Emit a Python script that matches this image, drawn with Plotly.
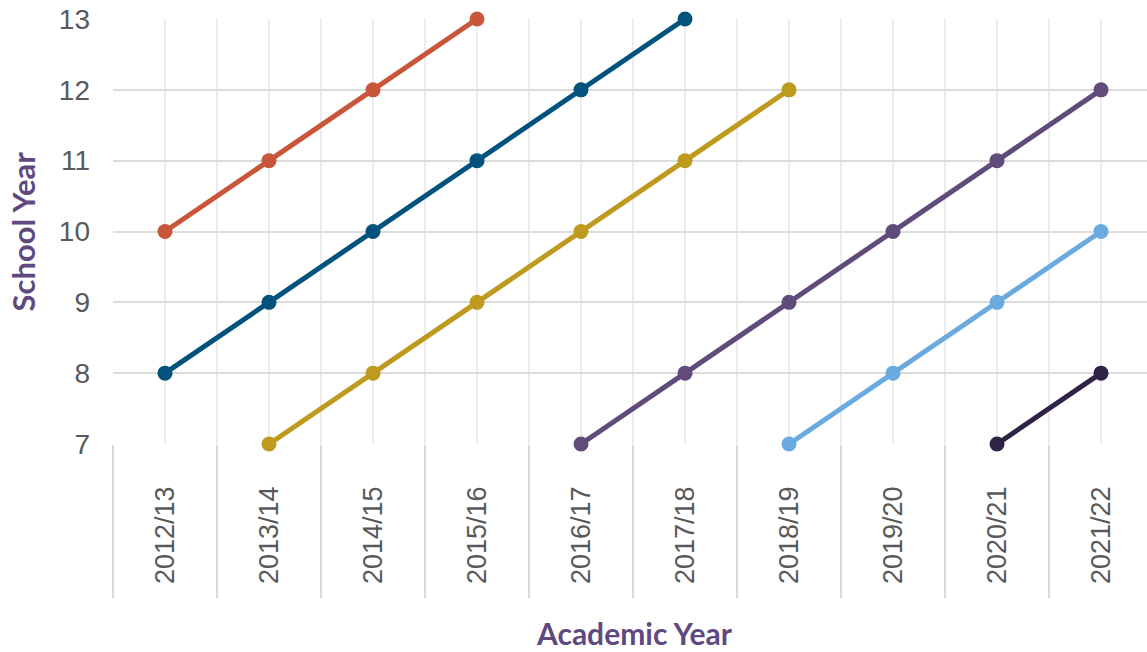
import plotly.graph_objects as go

# Academic years along the x axis
academic_years = ["2012/13", "2013/14", "2014/15", "2015/16", "2016/17",
                  "2017/18", "2018/19", "2019/20", "2020/21", "2021/22"]

# Each cohort: the academic years it is tracked through and its school year
cohort_a_years = ["2012/13", "2013/14", "2014/15", "2015/16"]
cohort_a_school = [10, 11, 12, 13]

cohort_b_years = ["2012/13", "2013/14", "2014/15", "2015/16", "2016/17", "2017/18"]
cohort_b_school = [8, 9, 10, 11, 12, 13]

cohort_c_years = ["2013/14", "2014/15", "2015/16", "2016/17", "2017/18", "2018/19"]
cohort_c_school = [7, 8, 9, 10, 11, 12]

cohort_d_years = ["2016/17", "2017/18", "2018/19", "2019/20", "2020/21", "2021/22"]
cohort_d_school = [7, 8, 9, 10, 11, 12]

cohort_e_years = ["2018/19", "2019/20", "2020/21", "2021/22"]
cohort_e_school = [7, 8, 9, 10]

cohort_f_years = ["2020/21", "2021/22"]
cohort_f_school = [7, 8]

cohorts = [
    ("Cohort A", cohort_a_years, cohort_a_school, "#c9563a"),
    ("Cohort B", cohort_b_years, cohort_b_school, "#01527c"),
    ("Cohort C", cohort_c_years, cohort_c_school, "#be9b1e"),
    ("Cohort D", cohort_d_years, cohort_d_school, "#604b7b"),
    ("Cohort E", cohort_e_years, cohort_e_school, "#6aaade"),
    ("Cohort F", cohort_f_years, cohort_f_school, "#2f2446"),
]

pos = {y: i for i, y in enumerate(academic_years)}

fig = go.Figure()
for name, years, school, color in cohorts:
    fig.add_trace(go.Scatter(
        x=[pos[y] for y in years],
        y=school,
        name=name,
        mode="lines+markers",
        line=dict(color=color, width=5),
        marker=dict(color=color, size=15),
        cliponaxis=False,
    ))

x_tick_font = dict(family="Liberation Sans, Arial, sans-serif", size=27, color="#595959")
y_tick_font = dict(family="Liberation Sans, Arial, sans-serif", size=28, color="#595959")
title_font = dict(family="Lato, sans-serif", size=30, color="#5f4a7f")

fig.update_layout(
    width=1147,
    height=652,
    margin=dict(l=113, r=0, t=19, b=208, autoexpand=False),
    plot_bgcolor="white",
    paper_bgcolor="white",
    showlegend=False,
    xaxis=dict(
        range=[-0.5, 9.442],
        tickmode="array",
        tickvals=list(range(len(academic_years))),
        ticktext=academic_years,
        tickangle=-90,
        tickfont=x_tick_font,
        ticks="",
        ticklabelstandoff=36,
        showgrid=True,
        gridcolor="#ececec",
        gridwidth=1.5,
        zeroline=False,
        showline=False,
        automargin=False,
        minor=dict(
            tick0=-0.5,
            dtick=1,
            ticks="outside",
            ticklen=153,
            tickwidth=2,
            tickcolor="#d9d9d9",
            showgrid=True,
            gridcolor="#ececec",
            gridwidth=1.5,
        ),
        fixedrange=True,
    ),
    yaxis=dict(
        range=[7, 13],
        tickmode="array",
        tickvals=[7, 8, 9, 10, 11, 12, 13],
        tickfont=y_tick_font,
        ticks="",
        ticklabelstandoff=22,
        showgrid=True,
        gridcolor="#dcdcdc",
        gridwidth=2,
        zeroline=False,
        showline=False,
        automargin=False,
        fixedrange=True,
    ),
    annotations=[
        dict(text="<b>Academic Year</b>", font=title_font, showarrow=False,
             xref="paper", yref="paper", x=0.5048, y=-0.4447,
             xanchor="center", yanchor="middle", borderpad=0),
        dict(text="<b>School Year</b>", font=dict(title_font, size=31), showarrow=False,
             textangle=-90, xref="paper", yref="paper", x=-0.088, y=0.5,
             xanchor="center", yanchor="middle", borderpad=0),
    ],
)

fig.write_html("out.html")
